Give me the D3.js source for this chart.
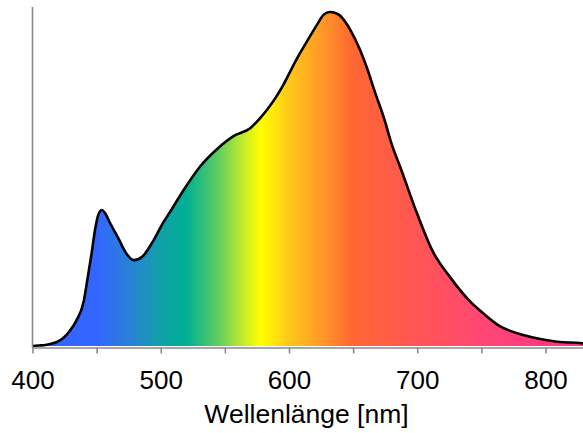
<!DOCTYPE html>
<html>
<head>
<meta charset="utf-8">
<script src="https://cdn.jsdelivr.net/npm/d3@7"></script>
<style>
  body { margin: 0; background: #fff; }
  svg { display: block; font-family: "Liberation Sans", Arial, sans-serif; }
  .axis path, .axis line { stroke: #8a8a8a; stroke-width: 1.6; }
</style>
</head>
<body>
<svg id="wrapper"></svg>
<script>
// spectrum: wavelength [nm] and relative intensity [%]
let wavelengths = [400,405,410,414,419,424,429,434,440,443,446,449,451,454,457,460,467,473,479,486,494,502,507,518,531,544,557,570,577,583,590,596,602,608,616,622,627,632,638,643,648,655,661,667,674,680,687,700,712,726,740,752,764,780,796,811,827,830];
let intensity   = [0,0.15,0.3,0.6,1.2,2.4,4.5,7.5,13.5,20.4,27.5,35.3,38.9,40.7,39.5,37.2,32.2,27.8,25.7,26.9,31.4,37,40,46.8,53.9,59,62.9,65.3,68,70.8,74.6,78.5,83,87.3,92.5,96.3,99.2,100,99.4,97.5,94.5,89,83,76,68.3,60.5,53.3,39.5,28.4,20.4,13.8,9.6,6,3.6,2.1,1.2,0.9,0.75];

// colour stops of the spectral fill
let stopNm     = [400,450,475,500,520,545,565,578,600,625,650,700,760,830];
let stopColors = ['#3366ff','#3366ff','#2a80d8','#10a0a8','#00b094','#60cc60','#c8ec28','#ffff00','#ffc81a','#ff9a26','#ff6633','#ff5555','#ff4477','#ff3388'];

// axis ticks
let tickNm = [400,450,500,550,600,650,700,750,800];
let xLabel = 'Wellenlänge [nm]';

let width = 583, height = 433;
let svg = d3.select('#wrapper').attr('width', width).attr('height', height);

let xScale = d3.scaleLinear().domain([400, 830]).range([32.5, 584]);
let yScale = d3.scaleLinear().domain([0, 101.5]).range([346, 7]);

let data = wavelengths.map(function(w, i) { return {nm: w, val: intensity[i]}; });

// gradient along the wavelength axis
let grad = svg.append('defs').append('linearGradient')
  .attr('id', 'spec')
  .attr('gradientUnits', 'userSpaceOnUse')
  .attr('x1', xScale(400)).attr('x2', xScale(830))
  .attr('y1', 0).attr('y2', 0);
grad.selectAll('stop')
  .data(stopNm)
  .enter().append('stop')
  .attr('offset', function(d) { return (d - 400) / 430; })
  .attr('stop-color', function(d, i) { return stopColors[i]; });

let area = d3.area()
  .curve(d3.curveMonotoneX)
  .x(function(d) { return xScale(d.nm); })
  .y0(yScale(0))
  .y1(function(d) { return yScale(d.val); });

let line = d3.line()
  .curve(d3.curveMonotoneX)
  .x(function(d) { return xScale(d.nm); })
  .y(function(d) { return yScale(d.val); });

svg.append('path').datum(data)
  .attr('d', area)
  .attr('fill', 'url(#spec)');

svg.append('path').datum(data)
  .attr('d', line)
  .attr('fill', 'none')
  .attr('stroke', '#000')
  .attr('stroke-width', 2.6)
  .attr('stroke-linejoin', 'round');

// y axis: plain line, no labels
svg.append('line')
  .attr('x1', xScale(400)).attr('x2', xScale(400))
  .attr('y1', yScale(101.5)).attr('y2', 348)
  .attr('stroke', '#8a8a8a').attr('stroke-width', 1.6);

// x axis
let xAxis = d3.axisBottom(xScale)
  .tickValues(tickNm)
  .tickSizeInner(6)
  .tickSizeOuter(0)
  .tickFormat(function(d) { return d % 100 === 0 ? d : ''; });

let gx = svg.append('g')
  .attr('class', 'x-axis axis')
  .attr('transform', 'translate(0,347.5)')
  .call(xAxis);
gx.selectAll('text')
  .attr('y', 41).attr('dy', 0)
  .attr('fill', '#000')
  .style('font-size', '26px')
  .style('font-family', '"Liberation Sans", Arial, sans-serif');

svg.append('text')
  .attr('x', 306.5).attr('y', 423)
  .attr('text-anchor', 'middle')
  .style('font-size', '26.5px')
  .text(xLabel);
</script>
</body>
</html>
